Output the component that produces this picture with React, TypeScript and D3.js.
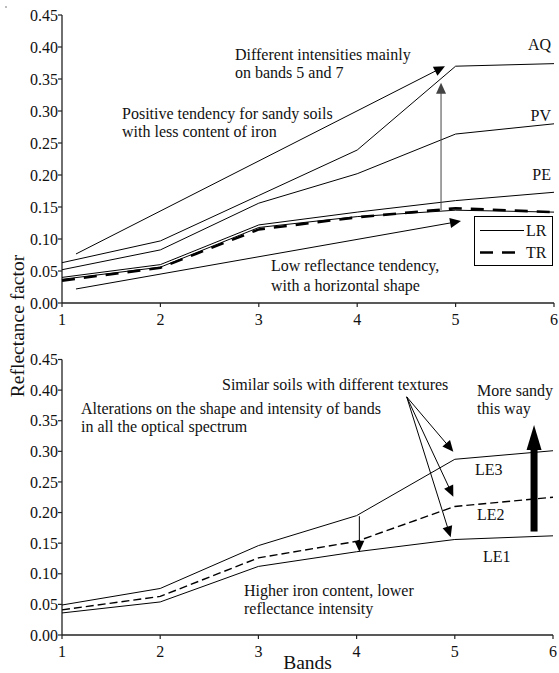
import React from 'react';
import * as d3 from 'd3';

// ---------- data ----------
const bands = [1, 2, 3, 4, 5, 6];
const yTickValues = [0, 0.05, 0.1, 0.15, 0.2, 0.25, 0.3, 0.35, 0.4, 0.45];
const xTickValues = [1, 2, 3, 4, 5, 6];

// top panel
const topAQ = [0.063, 0.097, 0.168, 0.239, 0.370, 0.374];
const topPV = [0.052, 0.083, 0.156, 0.202, 0.264, 0.280];
const topPE = [0.040, 0.060, 0.122, 0.142, 0.160, 0.173];
const topLR = [0.037, 0.056, 0.118, 0.135, 0.145, 0.142];
const topTR = [0.035, 0.055, 0.115, 0.134, 0.148, 0.142];

// bottom panel
const botLE3 = [0.049, 0.076, 0.146, 0.195, 0.287, 0.301];
const botLE2 = [0.041, 0.063, 0.126, 0.153, 0.210, 0.225];
const botLE1 = [0.036, 0.054, 0.112, 0.136, 0.156, 0.162];

const FONT = '"Liberation Serif", "Times New Roman", serif';

type ArrowProps = {
  x1: number; y1: number; x2: number; y2: number;
  len?: number; hw?: number; sw?: number; color?: string;
};

function Arrow({ x1, y1, x2, y2, len = 11, hw = 5, sw = 1, color = '#000' }: ArrowProps) {
  const dx = x2 - x1, dy = y2 - y1;
  const L = Math.hypot(dx, dy);
  const ux = dx / L, uy = dy / L;
  const bx = x2 - ux * len, by = y2 - uy * len;
  const px = -uy, py = ux;
  const pts = `${x2},${y2} ${bx + px * hw},${by + py * hw} ${bx - px * hw},${by - py * hw}`;
  return (
    <g>
      <line x1={x1} y1={y1} x2={bx + ux * 1} y2={by + uy * 1} stroke={color} strokeWidth={sw} />
      <polygon points={pts} fill={color} />
    </g>
  );
}

function Axes({ x, y }: { x: d3.ScaleLinear<number, number>; y: d3.ScaleLinear<number, number> }) {
  const [x0, x1] = x.range();
  const [y0, y1] = y.range();
  const ac = '#222';
  return (
    <g fontFamily={FONT} fontSize={16} fill="#111">
      <line x1={x0} x2={x0} y1={y0} y2={y1} stroke={ac} strokeWidth={1.3} />
      <line x1={x0} x2={x1} y1={y0} y2={y0} stroke={ac} strokeWidth={1.3} />
      {yTickValues.map((v) => (
        <g key={'y' + v}>
          <line x1={x0 - 4} x2={x0} y1={y(v)} y2={y(v)} stroke={ac} strokeWidth={1.2} />
          <text x={x0 - 4} y={y(v)} dy="0.35em" textAnchor="end">{v.toFixed(2)}</text>
        </g>
      ))}
      {xTickValues.map((b) => (
        <g key={'x' + b}>
          <line x1={x(b)} x2={x(b)} y1={y0} y2={y0 + 4} stroke={ac} strokeWidth={1.2} />
          <text x={x(b)} y={y0 + 22} textAnchor="middle">{b}</text>
        </g>
      ))}
    </g>
  );
}

export default function App() {
  const W = 559, H = 673;
  const xTop = d3.scaleLinear().domain([1, 6]).range([62, 554]);
  const yTop = d3.scaleLinear().domain([0, 0.45]).range([303, 15]);
  const xBot = d3.scaleLinear().domain([1, 6]).range([62, 553]);
  const yBot = d3.scaleLinear().domain([0, 0.45]).range([635, 359.5]);

  const lineTop = d3.line<number>().x((_, i) => xTop(bands[i])).y((d) => yTop(d));
  const lineBot = d3.line<number>().x((_, i) => xBot(bands[i])).y((d) => yBot(d));

  return (
    <svg width={W} height={H} style={{ position: 'absolute', left: 0, top: 0, background: '#fff' }}
      fontFamily={FONT}>
      <rect width={W} height={H} fill="#fff" />
      <circle cx={6} cy={7} r={0.8} fill="#666" />

      {/* ---------- TOP PANEL ---------- */}
      <Axes x={xTop} y={yTop} />
      <g fill="none" stroke="#000">
        <path d={lineTop(topAQ)!} strokeWidth={1} />
        <path d={lineTop(topPV)!} strokeWidth={1} />
        <path d={lineTop(topPE)!} strokeWidth={1} />
        <path d={lineTop(topLR)!} strokeWidth={1} />
        <path d={lineTop(topTR)!} strokeWidth={2.6} strokeDasharray="13,9" />
      </g>
      {/* annotation arrows */}
      <Arrow x1={xTop(1.142)} y1={yTop(0.0766)} x2={xTop(4.892)} y2={yTop(0.370)} />
      <Arrow x1={xTop(4.852)} y1={yTop(0.1453)} x2={xTop(4.852)} y2={yTop(0.344)} color="#444" />
      <Arrow x1={xTop(1.142)} y1={yTop(0.0219)} x2={xTop(5.055)} y2={yTop(0.128)} />

      <g fontSize={16} fill="#111">
        <text x={235} y={60}>Different intensities mainly</text>
        <text x={235} y={78}>on bands 5 and 7</text>
        <text x={122} y={119}>Positive tendency for sandy soils</text>
        <text x={122} y={137}>with less content of iron</text>
        <text x={271} y={271}>Low reflectance tendency,</text>
        <text x={271} y={291}>with a horizontal shape</text>
        <text x={551} y={50} textAnchor="end">AQ</text>
        <text x={551} y={121} textAnchor="end">PV</text>
        <text x={551} y={180} textAnchor="end">PE</text>
      </g>

      {/* legend */}
      <g>
        <rect x={474.5} y={216.5} width={78} height={49} fill="#fff" stroke="#000" strokeWidth={1} />
        <line x1={480} x2={524} y1={230.5} y2={230.5} stroke="#000" strokeWidth={1} />
        <text x={526} y={236} fontSize={16} fill="#111">LR</text>
        <line x1={480} x2={524} y1={252.5} y2={252.5} stroke="#000" strokeWidth={2.6} strokeDasharray="13,9" />
        <text x={526} y={258} fontSize={16} fill="#111">TR</text>
      </g>

      {/* ---------- BOTTOM PANEL ---------- */}
      <Axes x={xBot} y={yBot} />
      <g fill="none" stroke="#000">
        <path d={lineBot(botLE3)!} strokeWidth={1} />
        <path d={lineBot(botLE2)!} strokeWidth={1.4} strokeDasharray="8,4" />
        <path d={lineBot(botLE1)!} strokeWidth={1} />
      </g>
      <Arrow x1={xBot(4.51)} y1={yBot(0.389)} x2={xBot(4.985)} y2={yBot(0.2994)} />
      <Arrow x1={xBot(4.51)} y1={yBot(0.389)} x2={xBot(4.985)} y2={yBot(0.226)} />
      <Arrow x1={xBot(4.51)} y1={yBot(0.389)} x2={xBot(4.958)} y2={yBot(0.1596)} />
      <Arrow x1={xBot(4.028)} y1={yBot(0.194)} x2={xBot(4.028)} y2={yBot(0.136)} />
      <Arrow x1={xBot(5.807)} y1={yBot(0.169)} x2={xBot(5.807)} y2={yBot(0.343)} len={25} hw={7.5} sw={7} />

      <g fontSize={16} fill="#111">
        <text x={222} y={390}>Similar soils with different textures</text>
        <text x={81} y={414}>Alterations on the shape and intensity of bands</text>
        <text x={81} y={432}>in all the optical spectrum</text>
        <text x={477} y={396}>More sandy</text>
        <text x={477} y={414}>this way</text>
        <text x={475} y={475}>LE3</text>
        <text x={477} y={520}>LE2</text>
        <text x={483} y={562}>LE1</text>
        <text x={244} y={596}>Higher iron content, lower</text>
        <text x={244} y={614}>reflectance intensity</text>
      </g>

      {/* axis titles */}
      <text transform="translate(24,326) rotate(-90)" textAnchor="middle" fontSize={19.5} fill="#111">
        Reflectance factor
      </text>
      <text x={307.5} y={669} textAnchor="middle" fontSize={19.5} fill="#111">Bands</text>
    </svg>
  );
}
